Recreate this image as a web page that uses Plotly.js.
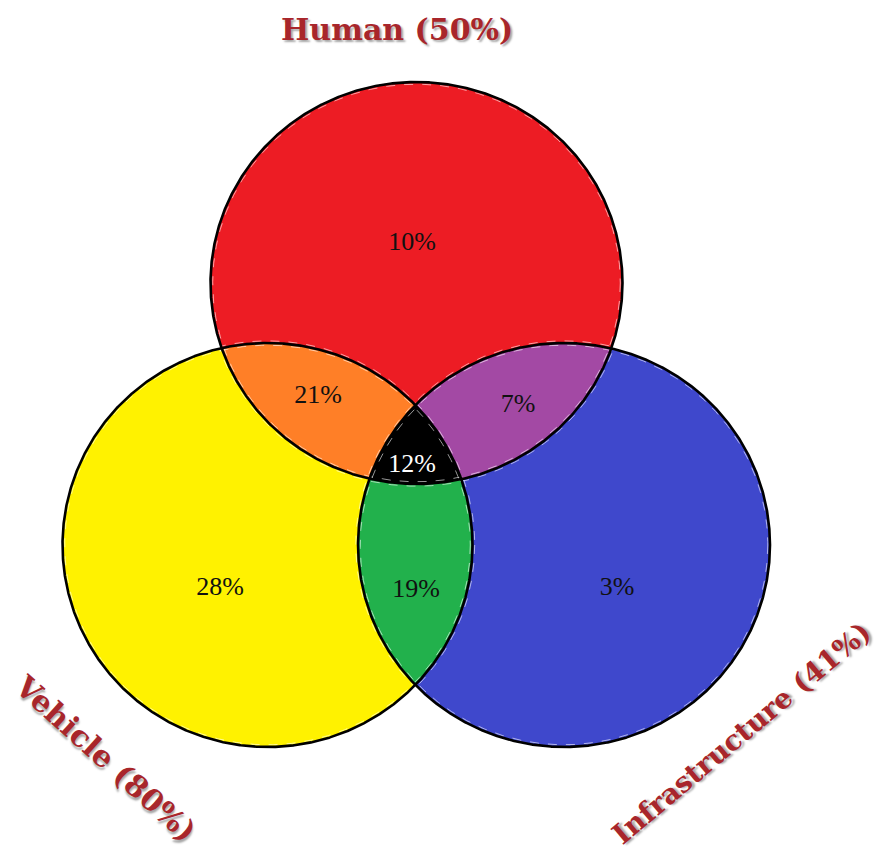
<!DOCTYPE html>
<html>
<head>
<meta charset="utf-8">
<script src="https://cdn.plot.ly/plotly-3.0.1.min.js"></script>
<style>
  html, body { margin: 0; padding: 0; background: #ffffff; }
  #chart { width: 888px; height: 857px; }
</style>
</head>
<body>
<div id="chart"></div>
<script>
// ---------------- data ----------------
const setNames = ['Human', 'Vehicle', 'Infrastructure'];
const setTotals = [50, 80, 41];
const setColors = ['#ED1C24', '#FFF200', '#3F48CC'];

// regions: membership by set index
const regionSets = [[0], [1], [2], [0, 1], [0, 2], [1, 2], [0, 1, 2]];
const regionValues = [10, 28, 3, 21, 7, 19, 12];
const regionColors = ['#ED1C24', '#FFF200', '#3F48CC', '#FF7F27', '#A349A4', '#22B14C', '#000000'];
const regionTextColors = ['#111111', '#111111', '#111111', '#111111', '#111111', '#111111', '#ffffff'];

// ---------------- layout geometry (pixel space) ----------------
const W = 888, H = 857;
const ellipses = [
  { cx: 416.5, cy: 283, rx: 206, ry: 201 },   // Human
  { cx: 267.5, cy: 545, rx: 205, ry: 202 },   // Vehicle
  { cx: 564,   cy: 545, rx: 206, ry: 202 }    // Infrastructure
];
const regionLabelPos = [
  [412, 243], [220, 588], [617, 588],
  [318, 396], [518, 405], [416, 590], [412, 465]
];
const setLabelPos = [
  { x: 397, y: 29, angle: 0, size: 30 },
  { x: 106, y: 758, angle: 42, size: 30 },
  { x: 741, y: 733, angle: -40, size: 28 }
];

const N = 1440;
function ellipsePts(e, dr) {
  const xs = [], ys = [];
  for (let i = 0; i <= N; i++) {
    const t = 2 * Math.PI * i / N;
    xs.push(e.cx + (e.rx + (dr || 0)) * Math.cos(t));
    ys.push(e.cy + (e.ry + (dr || 0)) * Math.sin(t));
  }
  return { xs, ys };
}
function inside(e, x, y) {
  const a = (x - e.cx) / e.rx, b = (y - e.cy) / e.ry;
  return a * a + b * b <= 1.0005;
}
function regionPolygon(idx) {
  const pts = [];
  idx.forEach(k => {
    const e = ellipses[k];
    for (let i = 0; i < N; i++) {
      const t = 2 * Math.PI * i / N;
      const x = e.cx + e.rx * Math.cos(t), y = e.cy + e.ry * Math.sin(t);
      if (idx.every(j => j === k || inside(ellipses[j], x, y))) pts.push([x, y]);
    }
  });
  const mx = pts.reduce((s, p) => s + p[0], 0) / pts.length;
  const my = pts.reduce((s, p) => s + p[1], 0) / pts.length;
  pts.sort((p, q) => Math.atan2(p[1] - my, p[0] - mx) - Math.atan2(q[1] - my, q[0] - mx));
  pts.push(pts[0]);
  return { xs: pts.map(p => p[0]), ys: pts.map(p => p[1]) };
}

const traces = [];
// full circles (single-set fills)
regionSets.forEach((s, r) => {
  if (s.length !== 1) return;
  const p = ellipsePts(ellipses[s[0]]);
  traces.push({ x: p.xs, y: p.ys, mode: 'lines', fill: 'toself', fillcolor: regionColors[r],
    line: { width: 0, color: regionColors[r] }, hoverinfo: 'skip', showlegend: false });
});
// overlaps, pairs first then triple
regionSets.map((s, r) => r).filter(r => regionSets[r].length > 1)
  .sort((a, b) => regionSets[a].length - regionSets[b].length)
  .forEach(r => {
    const p = regionPolygon(regionSets[r]);
    traces.push({ x: p.xs, y: p.ys, mode: 'lines', fill: 'toself', fillcolor: regionColors[r],
      line: { width: 0, color: regionColors[r] }, hoverinfo: 'skip', showlegend: false });
  });
// faint white dashed inner lines
ellipses.forEach(e => {
  [-2.2, 2.2].forEach(d => {
    const p = ellipsePts(e, d);
    traces.push({ x: p.xs, y: p.ys, mode: 'lines', line: { width: 0.8, color: 'rgba(255,255,255,0.75)', dash: 'dash' },
      hoverinfo: 'skip', showlegend: false });
  });
});
// black outlines
ellipses.forEach(e => {
  const p = ellipsePts(e);
  traces.push({ x: p.xs, y: p.ys, mode: 'lines', line: { width: 2.6, color: '#000000' },
    hoverinfo: 'skip', showlegend: false });
});
// region value labels
traces.push({
  x: regionLabelPos.map(p => p[0]), y: regionLabelPos.map(p => p[1]),
  mode: 'text', text: regionValues.map(v => v + '%'),
  textfont: { family: 'Liberation Serif, Times New Roman, serif', size: 26, color: regionTextColors },
  textposition: 'middle center', hoverinfo: 'skip', showlegend: false
});

const annotations = setNames.map((n, i) => ({
  x: setLabelPos[i].x, y: setLabelPos[i].y, xref: 'x', yref: 'y',
  text: '<b>' + n + ' (' + setTotals[i] + '%)</b>', showarrow: false,
  textangle: setLabelPos[i].angle, xanchor: 'center', yanchor: 'middle',
  font: { family: 'DejaVu Serif, serif', size: setLabelPos[i].size, color: '#A8262B',
          shadow: '2px 2px 2px rgba(0,0,0,0.35)' }
}));

const layout = {
  width: W, height: H,
  margin: { l: 0, r: 0, t: 0, b: 0 },
  paper_bgcolor: '#ffffff', plot_bgcolor: '#ffffff',
  xaxis: { range: [0, W], visible: false, fixedrange: true },
  yaxis: { range: [H, 0], visible: false, fixedrange: true },
  annotations: annotations,
  showlegend: false
};
Plotly.newPlot('chart', traces, layout, { displayModeBar: false, staticPlot: true });
</script>
</body>
</html>
